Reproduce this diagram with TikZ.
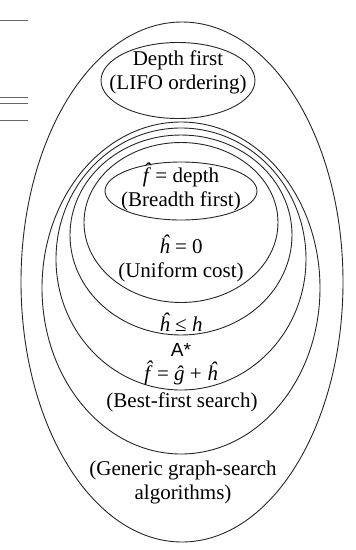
\documentclass[tikz,border=0pt]{standalone}
\usepackage{fontspec}
\setmainfont{Liberation Serif}
\newfontfamily\asans{Liberation Sans}
\newcommand{\hatit}[1]{{\itshape\^{#1}}}
\newcommand{\hatff}{{\itshape\^{f}}\kern1.5pt}
\begin{document}
\begin{tikzpicture}[x=1pt,y=-1pt,
  ring/.style={draw=black!85,line width=0.9pt},
  stray/.style={draw=black!60,line width=0.8pt},
  lbl/.style={font=\fontsize{21}{24}\selectfont,align=center,inner sep=0pt}]
\useasboundingbox (0,0) rectangle (356,550);
% stray page lines at left edge
\coordinate (s1a) at (0,20); \coordinate (s1b) at (28,20);
\coordinate (s2a) at (0,97); \coordinate (s2b) at (28,97);
\coordinate (s3a) at (0,103); \coordinate (s3b) at (28,103);
\coordinate (s4a) at (0,120); \coordinate (s4b) at (28,120);
\draw[stray] (s1a) -- (s1b);
\draw[stray] (s2a) -- (s2b);
\draw[stray] (s3a) -- (s3b);
\draw[stray] (s4a) -- (s4b);
% ellipses
\draw[ring] (182,282) ellipse [x radius=161, y radius=260];
\draw[ring] (178,80.5) ellipse [x radius=77, y radius=38];
\draw[ring] (181,288) ellipse [x radius=139, y radius=166];
\draw[ring] (181,259) ellipse [x radius=125, y radius=131];
\draw[ring] (181,235) ellipse [x radius=111, y radius=100];
\draw[ring] (181,222.5) ellipse [x radius=97, y radius=80];
\draw[ring] (181,191) ellipse [x radius=76, y radius=29];
% labels
\node[lbl] (dfs) at (178,72) {Depth first\\(LIFO ordering)};
\node[lbl] (bfs) at (181,187) {\hatff{} = depth\\(Breadth first)};
\node[lbl] (ucs) at (181,258) {\hatit{h} = 0\\(Uniform cost)};
\node[lbl] (adm) at (181,322) {\hatit{h} ≤ {\itshape h}};
\node[lbl] (astar) at (181,350) {{\asans\fontsize{19}{22}\selectfont A*}};
\node[lbl] (feq) at (181,373) {\hatff{} = \hatit{g} + \hatit{h}};
\node[lbl] (best) at (182,402) {(Best-first search)};
\node[lbl] (gen) at (183,482) {(Generic graph-search\\algorithms)};
\end{tikzpicture}
\end{document}
